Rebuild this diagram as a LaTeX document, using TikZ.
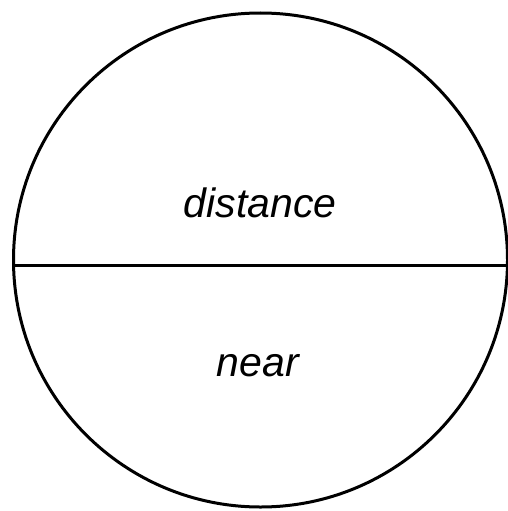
\documentclass[tikz,border=0pt]{standalone}
\usepackage{fontspec}
\setmainfont{Liberation Sans}
\usepackage{tikz}
\usetikzlibrary{positioning}
\tikzset{
  outline/.style={circle, draw, line width=3pt, minimum size=494pt, inner sep=0pt},
  split/.style={line width=2.4pt},
  zone/.style={font=\fontsize{41}{41}\selectfont\itshape, anchor=base, inner sep=0pt}
}

\begin{document}
\begin{tikzpicture}[x=1pt, y=-1pt]
\useasboundingbox (0,0) rectangle (508,511);

% nodes
\node[outline] (disc) at (260.5,260) {};
\coordinate (lft) at (14,265.5);
\coordinate (rgt) at (508,265.5);

% labels
\node[zone] (far)  at (260,217) {distance};
\node[zone] (near) at (258,376) {near};

% divider
\draw[split] (lft) -- (rgt);

\end{tikzpicture}
\end{document}
